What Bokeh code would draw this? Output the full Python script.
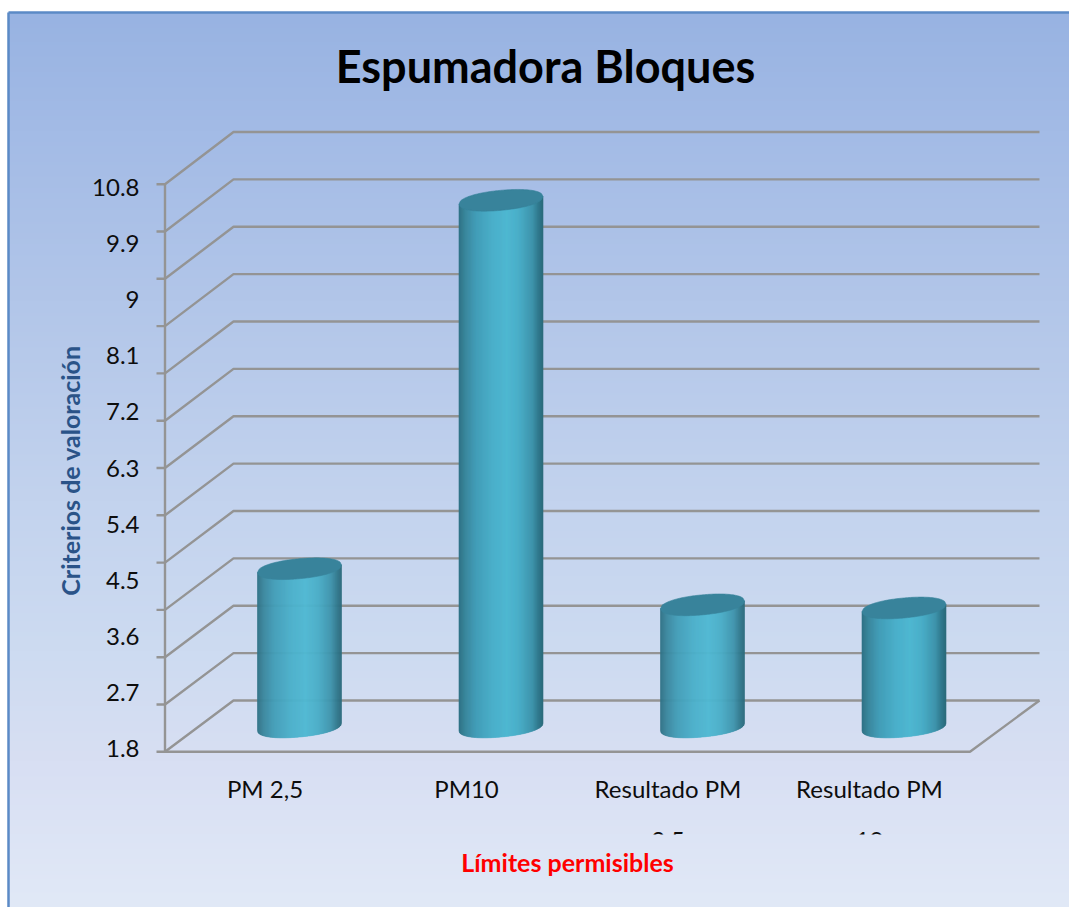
import numpy as np
from bokeh.core.properties import value
from bokeh.embed import file_html
from bokeh.models import Range1d
from bokeh.plotting import figure
from bokeh.resources import INLINE

# Chart data
TITLE = "Espumadora Bloques"
Y_TITLE = "Criterios de valoración"
X_TITLE = "Límites permisibles"
cat_line1 = ["PM 2,5", "PM10", "Resultado PM", "Resultado PM"]
cat_line2 = ["", "", "2,5", "10"]
bar_values = [4.34, 10.25, 3.76, 3.71]
tick_values = [1.8, 2.7, 3.6, 4.5, 5.4, 6.3, 7.2, 8.1, 9.0, 9.9, 10.8]
tick_labels = ["1.8", "2.7", "3.6", "4.5", "5.4", "6.3", "7.2", "8.1", "9", "9.9", "10.8"]

# Page geometry, in screen pixels
W, H = 1069, 907
BASE = 1.8
UNIT_PX = 62.33          # pixels per unit of value
BAR_STEP_PX = 201.5      # pixels between category centres
BAR_X0_PX = 299.0        # centre of the first cylinder
BAR_FLOOR_PX = 726.5     # screen row of the cylinders' base centre
LABEL_FLOOR_PX = 748.0   # screen row of the lowest value label
LABEL_X_PX = 264.5       # centre of the first category label


def py(y):
    """Screen row to the upward-pointing pixel range."""
    return H - y


p = figure(
    width=W, height=H, output_backend="svg", toolbar_location=None,
    x_range=Range1d(-BAR_X0_PX / BAR_STEP_PX, (W - BAR_X0_PX) / BAR_STEP_PX),
    y_range=Range1d(BASE - (H - BAR_FLOOR_PX) / UNIT_PX, BASE + BAR_FLOOR_PX / UNIT_PX),
    min_border=0, min_border_left=0, min_border_right=0, min_border_top=0, min_border_bottom=0,
    x_axis_location=None, y_axis_location=None,
)
p.grid.visible = False
p.outline_line_color = None
p.background_fill_color = "white"
p.border_fill_color = "white"
p.extra_x_ranges["px"] = Range1d(0, W)
p.extra_y_ranges["px"] = Range1d(0, H)
p.extra_y_ranges["labels"] = Range1d(BASE - (H - LABEL_FLOOR_PX) / UNIT_PX, BASE + LABEL_FLOOR_PX / UNIT_PX)

# Backdrop: vertical gradient of the chart area
stops_y = [12, 130, 300, 500, 650, 760, 907]
stops_rgb = np.array([
    [152, 179, 226], [163, 187, 230], [178, 198, 233], [195, 211, 238],
    [205, 219, 241], [216, 223, 243], [225, 233, 247],
], dtype=float)


def gradient(top, bottom):
    rows = np.arange(bottom - 1, top - 1, -1) + 0.5
    img = np.zeros((len(rows), 2), dtype=np.uint32)
    view = img.view(dtype=np.uint8).reshape((len(rows), 2, 4))
    for c in range(3):
        view[:, :, c] = np.interp(rows, stops_y, stops_rgb[:, c]).astype(np.uint8)[:, None]
    view[:, :, 3] = 255
    return img


LEFT, TOP = 8, 12
p.image_rgba(image=[gradient(TOP, H)], x=LEFT, y=0, dw=W - LEFT, dh=H - TOP,
             x_range_name="px", y_range_name="px")
p.line([8, 8], [py(12), py(H)], line_color="#5B8AC6", line_width=2.5,
       x_range_name="px", y_range_name="px")
p.line([8, W], [py(12), py(12)], line_color="#5B8AC6", line_width=2.5,
       x_range_name="px", y_range_name="px")

# Walls and floor of the 3D box
GRID_COLOR = "#949494"
GRID_WIDTH = 2.4
FRONT_X, BACK_X, END_X, FLOOR_END_X = 164.5, 233.0, 1039.0, 969.5
front_rows = np.linspace(183.7, 751.3, 13)
back_rows = np.linspace(131.5, 700.0, 13)
for fy, by in zip(front_rows, back_rows):
    p.line([156, FRONT_X, BACK_X, END_X], [py(fy), py(fy), py(by), py(by)],
           line_color=GRID_COLOR, line_width=GRID_WIDTH, line_join="round",
           x_range_name="px", y_range_name="px")
p.line([FRONT_X, FRONT_X], [py(front_rows[0]), py(front_rows[-1])],
       line_color=GRID_COLOR, line_width=GRID_WIDTH, x_range_name="px", y_range_name="px")
p.line([FRONT_X, FLOOR_END_X, END_X], [py(front_rows[-1]), py(front_rows[-1]), py(back_rows[-1])],
       line_color=GRID_COLOR, line_width=GRID_WIDTH, x_range_name="px", y_range_name="px")

# Cylinders: shaded vertical strips plus a flat elliptical cap
HALF_W = 42.0 / BAR_STEP_PX
CAP_B = 10.0 / UNIT_PX
CAP_K = 3.8 / UNIT_PX
CAP_ROUNDNESS = 2.15
shade_u = [-1.0, -0.85, -0.6, -0.2, 0.15, 0.45, 0.75, 0.92, 1.0]
shade_rgb = np.array([
    [46, 112, 132], [58, 134, 156], [66, 157, 183], [74, 175, 202], [79, 184, 210],
    [73, 173, 199], [62, 148, 172], [47, 117, 137], [44, 106, 124],
], dtype=float)
N_STRIPS = 84


def cap_half(u):
    return CAP_B * np.clip(1 - np.abs(u) ** CAP_ROUNDNESS, 0, 1) ** (1 / CAP_ROUNDNESS)


for i, v in enumerate(bar_values):
    edges = np.linspace(-1, 1, N_STRIPS + 1)
    xs, ys, cols = [], [], []
    for u0, u1 in zip(edges[:-1], edges[1:]):
        um = (u0 + u1) / 2
        rgb = [int(round(np.interp(um, shade_u, shade_rgb[:, c]))) for c in range(3)]
        cols.append("#%02x%02x%02x" % tuple(rgb))
        sub = np.linspace(u0, u1, 3)
        xs.append(list(i + sub * HALF_W) + list(i + sub[::-1] * HALF_W))
        ys.append(list(BASE + CAP_K * sub - cap_half(sub)) + list(v + CAP_K * sub[::-1]))
    p.patches(xs, ys, fill_color=cols, line_color=cols, line_width=0.6)
    u = np.concatenate([np.linspace(-1, 1, 60), np.linspace(1, -1, 60)])
    half = np.concatenate([cap_half(np.linspace(-1, 1, 60)), -cap_half(np.linspace(1, -1, 60))])
    p.patch(i + HALF_W * u, v + CAP_K * u + half,
            fill_color="#38839B", line_color="#38839B", line_width=0.6)

# Value labels, spaced by their own scale
LABEL_FONT = value("Lato")
LABEL_SIZE = "24px"
p.text(x=[139] * len(tick_values), y=tick_values, text=tick_labels, text_font=LABEL_FONT,
       text_font_size=LABEL_SIZE, text_color="#0d0d0d", text_align="right", text_baseline="middle",
       x_range_name="px", y_range_name="labels")

# Category labels; the second line runs into the edge of the label box
label_x = [LABEL_X_PX + BAR_STEP_PX * i for i in range(len(cat_line1))]
p.text(x=label_x, y=[py(788)] * 4, text=cat_line1, text_font=LABEL_FONT, text_font_size=LABEL_SIZE,
       text_color="#0d0d0d", text_align="center", text_baseline="middle",
       x_range_name="px", y_range_name="px")
p.text(x=label_x, y=[py(840)] * 4, text=cat_line2, text_font=LABEL_FONT, text_font_size=LABEL_SIZE,
       text_color="#0d0d0d", text_align="center", text_baseline="middle",
       x_range_name="px", y_range_name="px")
p.image_rgba(image=[gradient(834, H)], x=LEFT + 2, y=0, dw=W - LEFT - 2, dh=H - 834,
             x_range_name="px", y_range_name="px")

# Titles
p.text(x=[545], y=[py(65)], text=[TITLE], text_font=LABEL_FONT, text_font_style="bold",
       text_font_size="45px", text_color="#000000", text_align="center", text_baseline="middle",
       x_range_name="px", y_range_name="px")
p.text(x=[69], y=[py(470)], text=[Y_TITLE], angle=np.pi / 2, text_font=LABEL_FONT,
       text_font_style="bold", text_font_size="25px", text_color="#2A5388", text_align="center",
       text_baseline="middle", x_range_name="px", y_range_name="px")
p.text(x=[567], y=[py(861)], text=[X_TITLE], text_font=LABEL_FONT, text_font_style="bold",
       text_font_size="25px", text_color="#FF0000", text_align="center", text_baseline="middle",
       x_range_name="px", y_range_name="px")

open("out.html", "w").write(file_html(p, INLINE))
